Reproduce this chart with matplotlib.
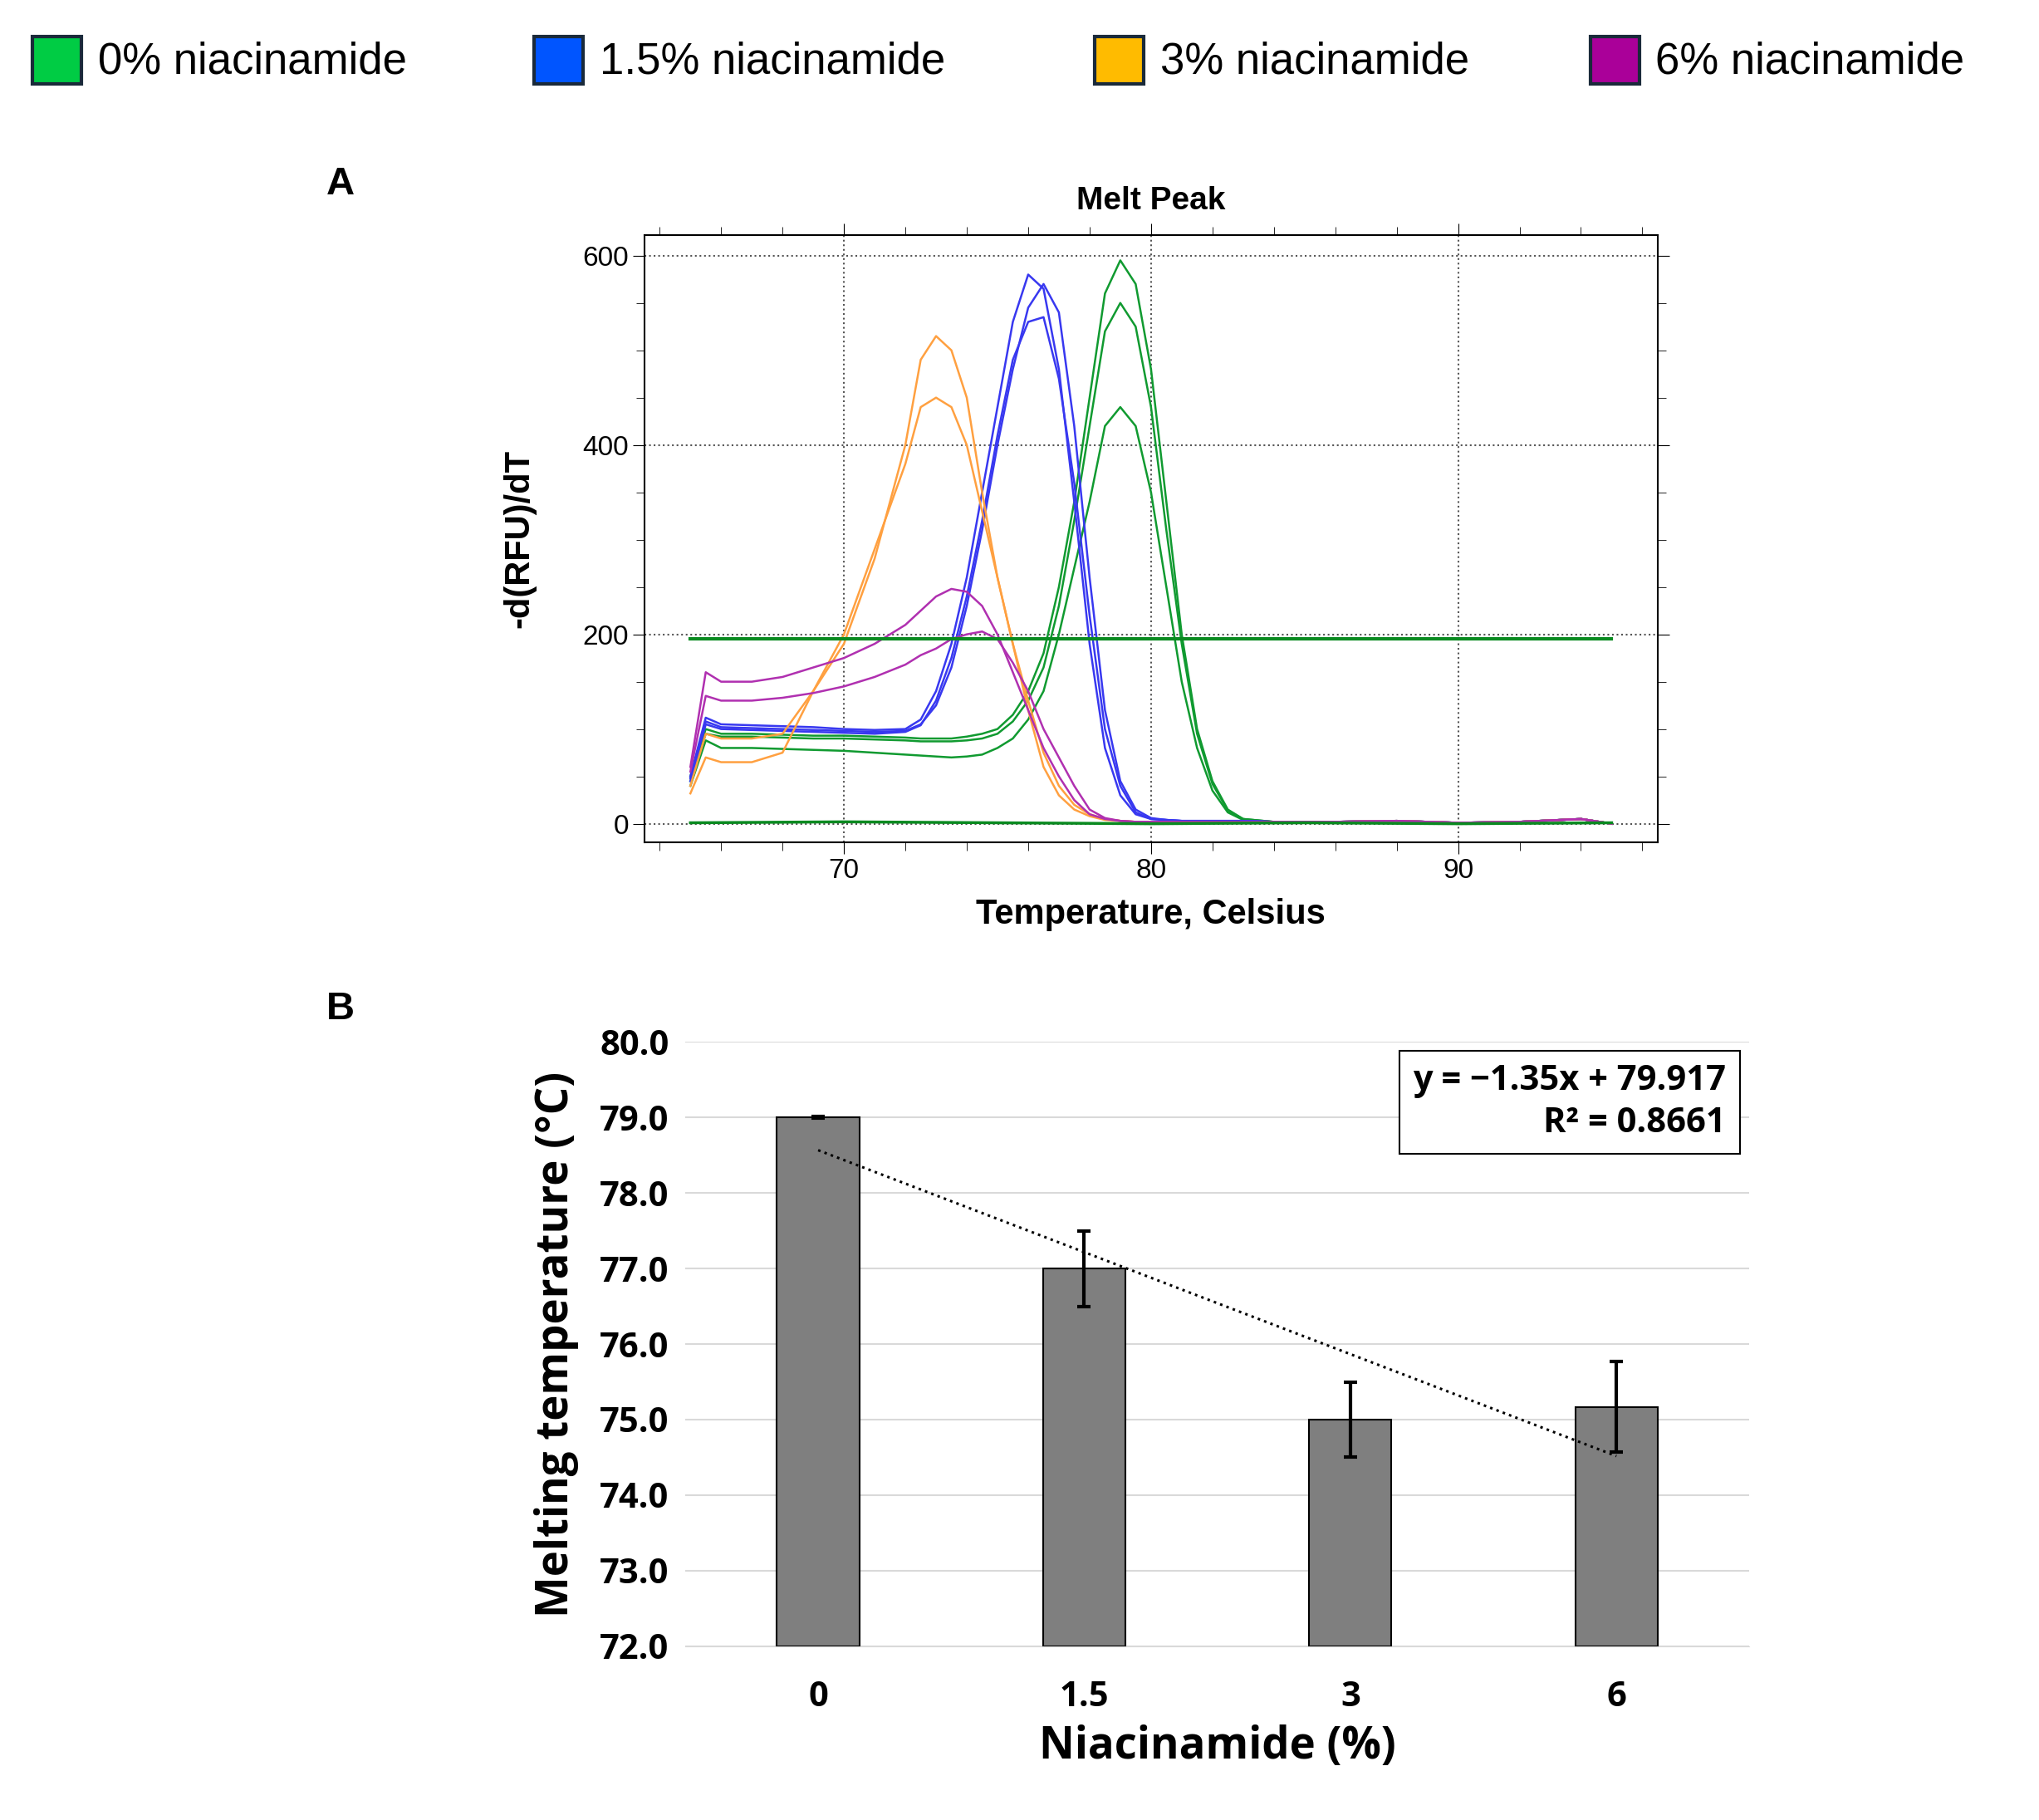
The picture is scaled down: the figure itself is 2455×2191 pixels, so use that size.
import matplotlib
matplotlib.use("Agg")
import matplotlib.pyplot as plt
from matplotlib.patches import Rectangle
from matplotlib.ticker import MultipleLocator

temps = [65, 65.5, 66, 67, 68, 69, 70, 71, 72, 72.5, 73, 73.5, 74, 74.5, 75, 75.5, 76, 76.5, 77, 77.5,
         78, 78.5, 79, 79.5, 80, 80.5, 81, 81.5, 82, 82.5, 83, 84, 86, 88, 90, 92, 94, 95]
tail = [2, 2, 3, 1, 2, 5, 0]
green1 = [50, 100, 95, 95, 94, 93, 93, 92, 91, 90, 90, 90, 92, 95, 100, 115, 140, 180, 250, 340,
          450, 560, 595, 570, 480, 340, 200, 100, 45, 15, 5] + tail
green2 = [45, 95, 92, 92, 91, 90, 90, 89, 88, 87, 87, 87, 88, 90, 95, 108, 130, 165, 230, 320,
          420, 520, 550, 525, 440, 310, 190, 95, 42, 14, 5] + tail
green3 = [40, 88, 80, 80, 79, 78, 77, 75, 73, 72, 71, 70, 71, 73, 80, 90, 110, 140, 200, 270,
          340, 420, 440, 420, 350, 250, 150, 80, 35, 12, 4] + tail
blue1 = [50, 112, 105, 104, 103, 102, 100, 99, 100, 110, 140, 190, 260, 350, 440, 530, 580, 565, 480, 340,
         190, 80, 30, 10, 5, 4, 3, 3, 3, 3, 3] + tail
blue2 = [48, 108, 102, 101, 100, 99, 98, 97, 98, 105, 125, 165, 230, 310, 400, 480, 545, 570, 540, 420,
         260, 120, 45, 15, 6, 4, 3, 3, 3, 3, 3] + tail
blue3 = [45, 105, 100, 99, 98, 97, 96, 95, 97, 104, 130, 175, 240, 320, 410, 490, 530, 535, 470, 360,
         220, 100, 40, 12, 5, 4, 3, 3, 3, 3, 3] + tail
orange1 = [40, 95, 90, 90, 95, 140, 190, 280, 400, 490, 515, 500, 450, 350, 260, 190, 120, 60, 30, 15,
           8, 4, 3, 2, 2, 2, 2, 2, 2, 2, 2] + tail
orange2 = [32, 70, 65, 65, 75, 140, 200, 290, 380, 440, 450, 440, 400, 330, 260, 190, 130, 75, 40, 20,
           10, 5, 3, 2, 2, 2, 2, 2, 2, 2, 2] + tail
magenta1 = [60, 160, 150, 150, 155, 165, 175, 190, 210, 225, 240, 248, 245, 230, 200, 160, 120, 80, 50, 25,
            10, 5, 3, 2, 2, 2, 2, 2, 2, 2, 2] + tail
magenta2 = [55, 135, 130, 130, 133, 138, 145, 155, 168, 178, 185, 195, 200, 203, 195, 170, 140, 100, 70, 40,
            15, 6, 3, 2, 2, 2, 2, 2, 2, 2, 2] + tail
baseline_t = [65, 70, 75, 80, 85, 90, 95]
baseline_v = [1, 2, 1, 0, 1, 0, 1]
threshold = 195

legend_labels = ["0% niacinamide", "1.5% niacinamide", "3% niacinamide", "6% niacinamide"]
legend_colors = ["#00cc44", "#0055ff", "#ffbb00", "#aa0099"]

conc_labels = ["0", "1.5", "3", "6"]
tm_values = [79.0, 77.0, 75.0, 75.17]
tm_errors = [0.01, 0.5, 0.5, 0.6]
slope, intercept = -1.35, 79.917

fig = plt.figure(figsize=(24.55, 21.91), dpi=100)
fig.patch.set_facecolor("white")

# legend
xs = [0.016, 0.262, 0.537, 0.78]
for x, lab, c in zip(xs, legend_labels, legend_colors):
    fig.patches.append(Rectangle((x, 0.954), 0.024, 0.026, transform=fig.transFigure,
                                 facecolor=c, edgecolor="#1a2a3a", linewidth=3))
    fig.text(x + 0.032, 0.966, lab, fontsize=38, va="center", ha="left", family="Liberation Sans")

# Panel A
axA = fig.add_axes([0.316, 0.537, 0.497, 0.334])
F = "Liberation Sans"
for v, c in [(green1, "#109a30"), (green2, "#109a30"), (green3, "#109a30"),
             (blue1, "#3838f0"), (blue2, "#3838f0"), (blue3, "#3838f0"),
             (orange1, "#ffa040"), (orange2, "#ffa040"),
             (magenta1, "#b030b0"), (magenta2, "#b030b0")]:
    axA.plot(temps, v, color=c, lw=1.8)
axA.plot(baseline_t, baseline_v, color="#0a8a20", lw=2.5)
axA.plot([65, 95], [threshold, threshold], color="#0a8a20", lw=3)
axA.set_xlim(63.5, 96.5)
axA.set_ylim(-20, 622)
axA.set_xticks([70, 80, 90])
axA.set_yticks([0, 200, 400, 600])
axA.xaxis.set_minor_locator(MultipleLocator(2))
axA.yaxis.set_minor_locator(MultipleLocator(50))
axA.grid(True, which="major", linestyle=":", color="#555555", lw=1.5)
axA.tick_params(which="both", direction="out", labelsize=24, top=True, right=True, length=7)
axA.tick_params(which="major", length=10)
for lab in axA.get_xticklabels() + axA.get_yticklabels():
    lab.set_family(F)
for s in axA.spines.values():
    s.set_linewidth(1.5)
axA.set_title("Melt Peak", fontsize=28, fontweight="bold", family=F, pad=22)
axA.set_xlabel("Temperature, Celsius", fontsize=30, fontweight="bold", family=F, labelpad=12)
axA.set_ylabel("-d(RFU)/dT", fontsize=30, fontweight="bold", family=F, labelpad=40)
fig.text(0.16, 0.893, "A", fontsize=34, fontweight="bold", family=F)
fig.text(0.16, 0.44, "B", fontsize=34, fontweight="bold", family=F)

# Panel B
axB = fig.add_axes([0.336, 0.0955, 0.522, 0.332])
pos = list(range(len(conc_labels)))
axB.bar(pos, [v - 72 for v in tm_values], bottom=72, width=0.31, color="#7f7f7f",
        edgecolor="black", linewidth=1.5, zorder=3)
axB.errorbar(pos, tm_values, yerr=tm_errors, fmt="none", ecolor="black", elinewidth=3,
             capsize=6, capthick=3, zorder=4)
tx = [pos[0], pos[-1]]
axB.plot(tx, [slope * (p + 1) + intercept for p in tx], color="black", linestyle=":", lw=2.2, zorder=5)
axB.set_xlim(-0.5, 3.5)
axB.set_ylim(72, 80)
axB.set_yticks([72 + i for i in range(9)])
axB.set_yticklabels([f"{72 + i:.1f}" for i in range(9)])
axB.set_xticks(pos)
axB.set_xticklabels(conc_labels)
axB.grid(True, axis="y", color="#d9d9d9", lw=1.5, zorder=0)
axB.set_axisbelow(True)
for s in ["top", "right", "left"]:
    axB.spines[s].set_visible(False)
axB.spines["bottom"].set_color("#d9d9d9")
axB.tick_params(length=0, labelsize=30, pad=14)
for lab in axB.get_xticklabels() + axB.get_yticklabels():
    lab.set_fontweight("bold")
    lab.set_family("Open Sans")
axB.tick_params(axis="x", pad=30)
axB.set_xlabel("Niacinamide (%)", fontsize=38, fontweight="bold", family="Open Sans", labelpad=8)
axB.set_ylabel("Melting temperature (°C)", fontsize=38, fontweight="bold", family="Open Sans", labelpad=18)
axB.text(0.978, 0.90, "y = \u22121.35x + 79.917\nR² = 0.8661", transform=axB.transAxes,
         ha="right", va="center", fontsize=30, fontweight="bold", family="Open Sans",
         linespacing=1.3, zorder=6,
         bbox=dict(boxstyle="square,pad=0.4", facecolor="white", edgecolor="black", lw=1.5))

fig.savefig("out.png", dpi=100)
